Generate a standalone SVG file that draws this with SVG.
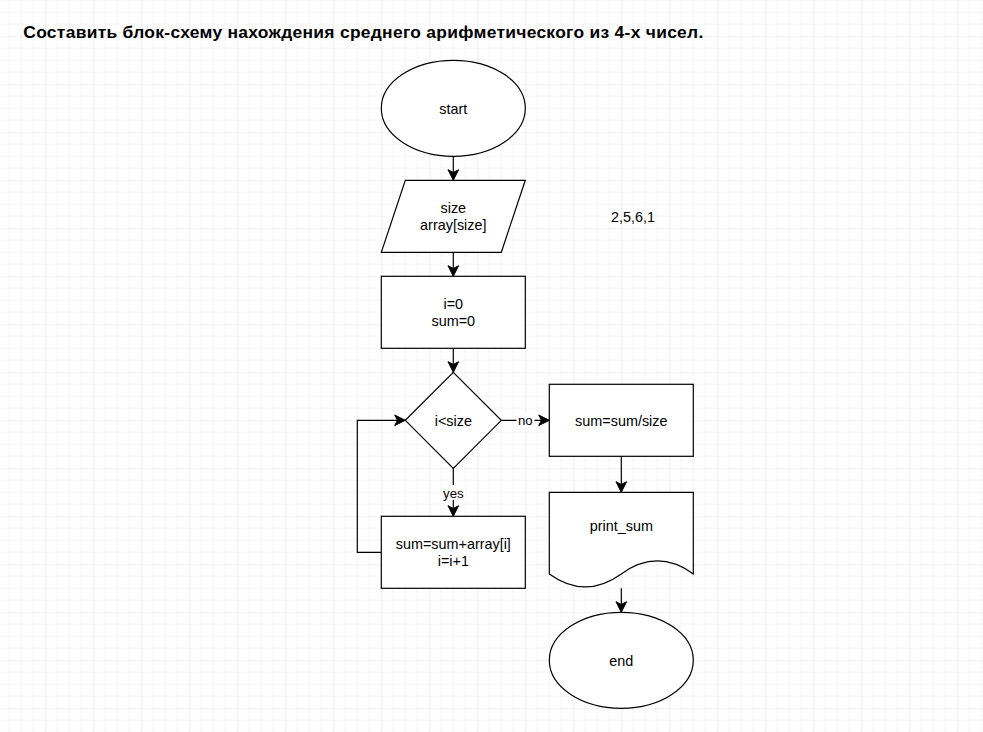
<svg xmlns="http://www.w3.org/2000/svg" width="983" height="732" viewBox="0 0 983 732">
<defs>
<pattern id="grid" patternUnits="userSpaceOnUse" x="45.3" y="84.3" width="48" height="48">
<path d="M12,0V48M24,0V48M36,0V48M0,12H48M0,24H48M0,36H48" stroke="#f3f3f3" stroke-width="1" fill="none"/>
<path d="M0,0V48M0,0H48" stroke="#e3e3e3" stroke-width="1.2" fill="none"/>
</pattern>
<marker id="arr" markerUnits="userSpaceOnUse" markerWidth="14" markerHeight="14" viewBox="-12 -7 14 14" refX="0" refY="0" orient="auto" overflow="visible">
<path d="M0,0 L-10.6,-5.3 L-7.8,0 L-10.6,5.3 Z" fill="#000" stroke="#000" stroke-width="1"/>
</marker>
<style>
.shape{fill:#fff;stroke:#000;stroke-width:1.2}
.edge{fill:none;stroke:#000;stroke-width:1.2}
.t{font-family:"Liberation Sans",Arial,sans-serif;font-size:14.4px;fill:#000;text-anchor:middle}
.lbl{font-family:"Liberation Sans",Arial,sans-serif;font-size:13.2px;fill:#000;text-anchor:middle}
.title{font-family:"Liberation Sans",Arial,sans-serif;font-size:17.4px;font-weight:bold;fill:#000}
</style>
</defs>
<rect width="983" height="732" fill="#fff"/>
<rect width="983" height="732" fill="url(#grid)"/>
<text class="title" x="23.3" y="37.8" textLength="680" lengthAdjust="spacing">Составить блок-схему нахождения среднего арифметического из 4-х чисел.</text>
<text class="t" x="633" y="222.3" id="note">2,5,6,1</text>
<g id="connectors">
<path class="edge" d="M453.3,156.3V180.3" marker-end="url(#arr)"/>
<path class="edge" d="M453.3,252.3V276.3" marker-end="url(#arr)"/>
<path class="edge" d="M453.3,348.3V372.3" marker-end="url(#arr)"/>
<path class="edge" d="M453.3,468.3V516.3" marker-end="url(#arr)"/>
<path class="edge" d="M381.3,552.3H357.3V420.3H405.3" marker-end="url(#arr)"/>
<path class="edge" d="M501.3,420.3H549.3" marker-end="url(#arr)"/>
<path class="edge" d="M621.3,456.3V492.3" marker-end="url(#arr)"/>
<path class="edge" d="M621.3,588.3V612.3" marker-end="url(#arr)"/>
<rect x="516.5" y="413" width="18" height="15" fill="#fff"/>
<text class="lbl" x="525.3" y="425.2">no</text>
<rect x="442" y="485" width="23" height="15" fill="#fff"/>
<text class="lbl" x="453.3" y="497.5">yes</text>
</g>
<g id="start">
<ellipse class="shape" cx="453.3" cy="108.3" rx="72" ry="48"/>
<text class="t" x="453.3" y="113.5">start</text>
</g>
<g id="input">
<path class="shape" d="M405.3,180.3H525.3L501.3,252.3H381.3Z"/>
<text class="t" x="453.3" y="213">size</text>
<text class="t" x="453.3" y="230.3">array[size]</text>
</g>
<g id="init">
<rect class="shape" x="381.3" y="276.3" width="144" height="72"/>
<text class="t" x="453.3" y="309">i=0</text>
<text class="t" x="453.3" y="326.3">sum=0</text>
</g>
<g id="cond">
<path class="shape" d="M453.3,372.3L501.3,420.3L453.3,468.3L405.3,420.3Z"/>
<text class="t" x="453.3" y="425.5">i&lt;size</text>
</g>
<g id="body">
<rect class="shape" x="381.3" y="516.3" width="144" height="72"/>
<text class="t" x="453.3" y="549">sum=sum+array[i]</text>
<text class="t" x="453.3" y="566.3">i=i+1</text>
</g>
<g id="avg">
<rect class="shape" x="549.3" y="384.3" width="144" height="72"/>
<text class="t" x="621.3" y="425.5">sum=sum/size</text>
</g>
<g id="print">
<path class="shape" d="M549.3,492.3H693.3V573.9Q657.3,548,621.3,573.9Q585.3,599.8,549.3,573.9Z"/>
<text class="t" x="621.3" y="531">print_sum</text>
</g>
<g id="end">
<ellipse class="shape" cx="621.3" cy="660.3" rx="72" ry="48"/>
<text class="t" x="621.3" y="665.5">end</text>
</g>
</svg>
